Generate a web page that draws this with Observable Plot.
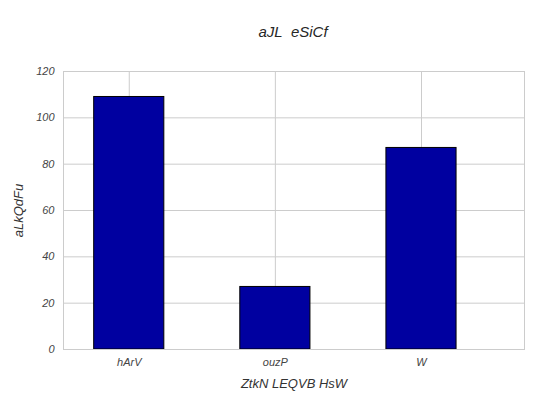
<!DOCTYPE html>
<html><head><meta charset="utf-8">
<script src="https://cdn.jsdelivr.net/npm/d3@7"></script>
<script src="https://cdn.jsdelivr.net/npm/@observablehq/plot@0.6"></script>
<style>
body{margin:0;background:#fff;font-family:"Liberation Sans",Arial,sans-serif;font-style:italic;}
#t{height:50px;width:536px;text-align:center;font-size:15px;color:#262626;line-height:20px;box-sizing:border-box;position:relative}
#t span{position:absolute;left:0;right:0;top:22px;padding-left:50px}
svg text{font-style:italic}
</style></head><body>
<div id="t"><span>aJL&nbsp; eSiCf</span></div>
<div id="c"></div>
<script>
const categories = ["hArV","ouzP","W"];
const values = [109,27,87];
const yTicks = [0,20,40,60,80,100,120];
const data = categories.map((c,i)=>({c,i,v:values[i]}));
const chart = Plot.plot({
  width:536, height:352,
  marginTop:21, marginBottom:53, marginLeft:63, marginRight:12,
  style:{fontFamily:"Liberation Sans, Arial, sans-serif", fontSize:"11px", color:"#444", background:"#fff"},
  x:{type:"linear", domain:[-0.45,2.705], ticks:[0,1,2], tickFormat:d=>categories[d], tickSize:0, tickPadding:9, label:"ZtkN LEQVB HsW", labelArrow:"none", labelAnchor:"center", labelOffset:38},
  y:{domain:[0,120], ticks:yTicks, tickSize:0, tickPadding:9, label:"aLkQdFu", labelArrow:"none", labelAnchor:"center", labelOffset:50},
  marks:[
    Plot.gridX([0,1,2],{stroke:"#cccccc", strokeOpacity:1}),
    Plot.gridY(yTicks,{stroke:"#cccccc", strokeOpacity:1}),
    Plot.rectY(data,{x1:d=>d.i-0.24, x2:d=>d.i+0.24, y1:0, y2:"v", fill:"#0000a0", stroke:"#000", strokeWidth:1}),
    Plot.frame({stroke:"#cccccc"})
  ]
});
chart.querySelectorAll('[aria-label="x-axis label"] text, [aria-label="y-axis label"] text, [aria-label="x-axis label"], [aria-label="y-axis label"]').forEach(t=>{t.style.fontSize="13px";t.style.fill="#333";});
document.getElementById("c").appendChild(chart);
</script></body></html>
